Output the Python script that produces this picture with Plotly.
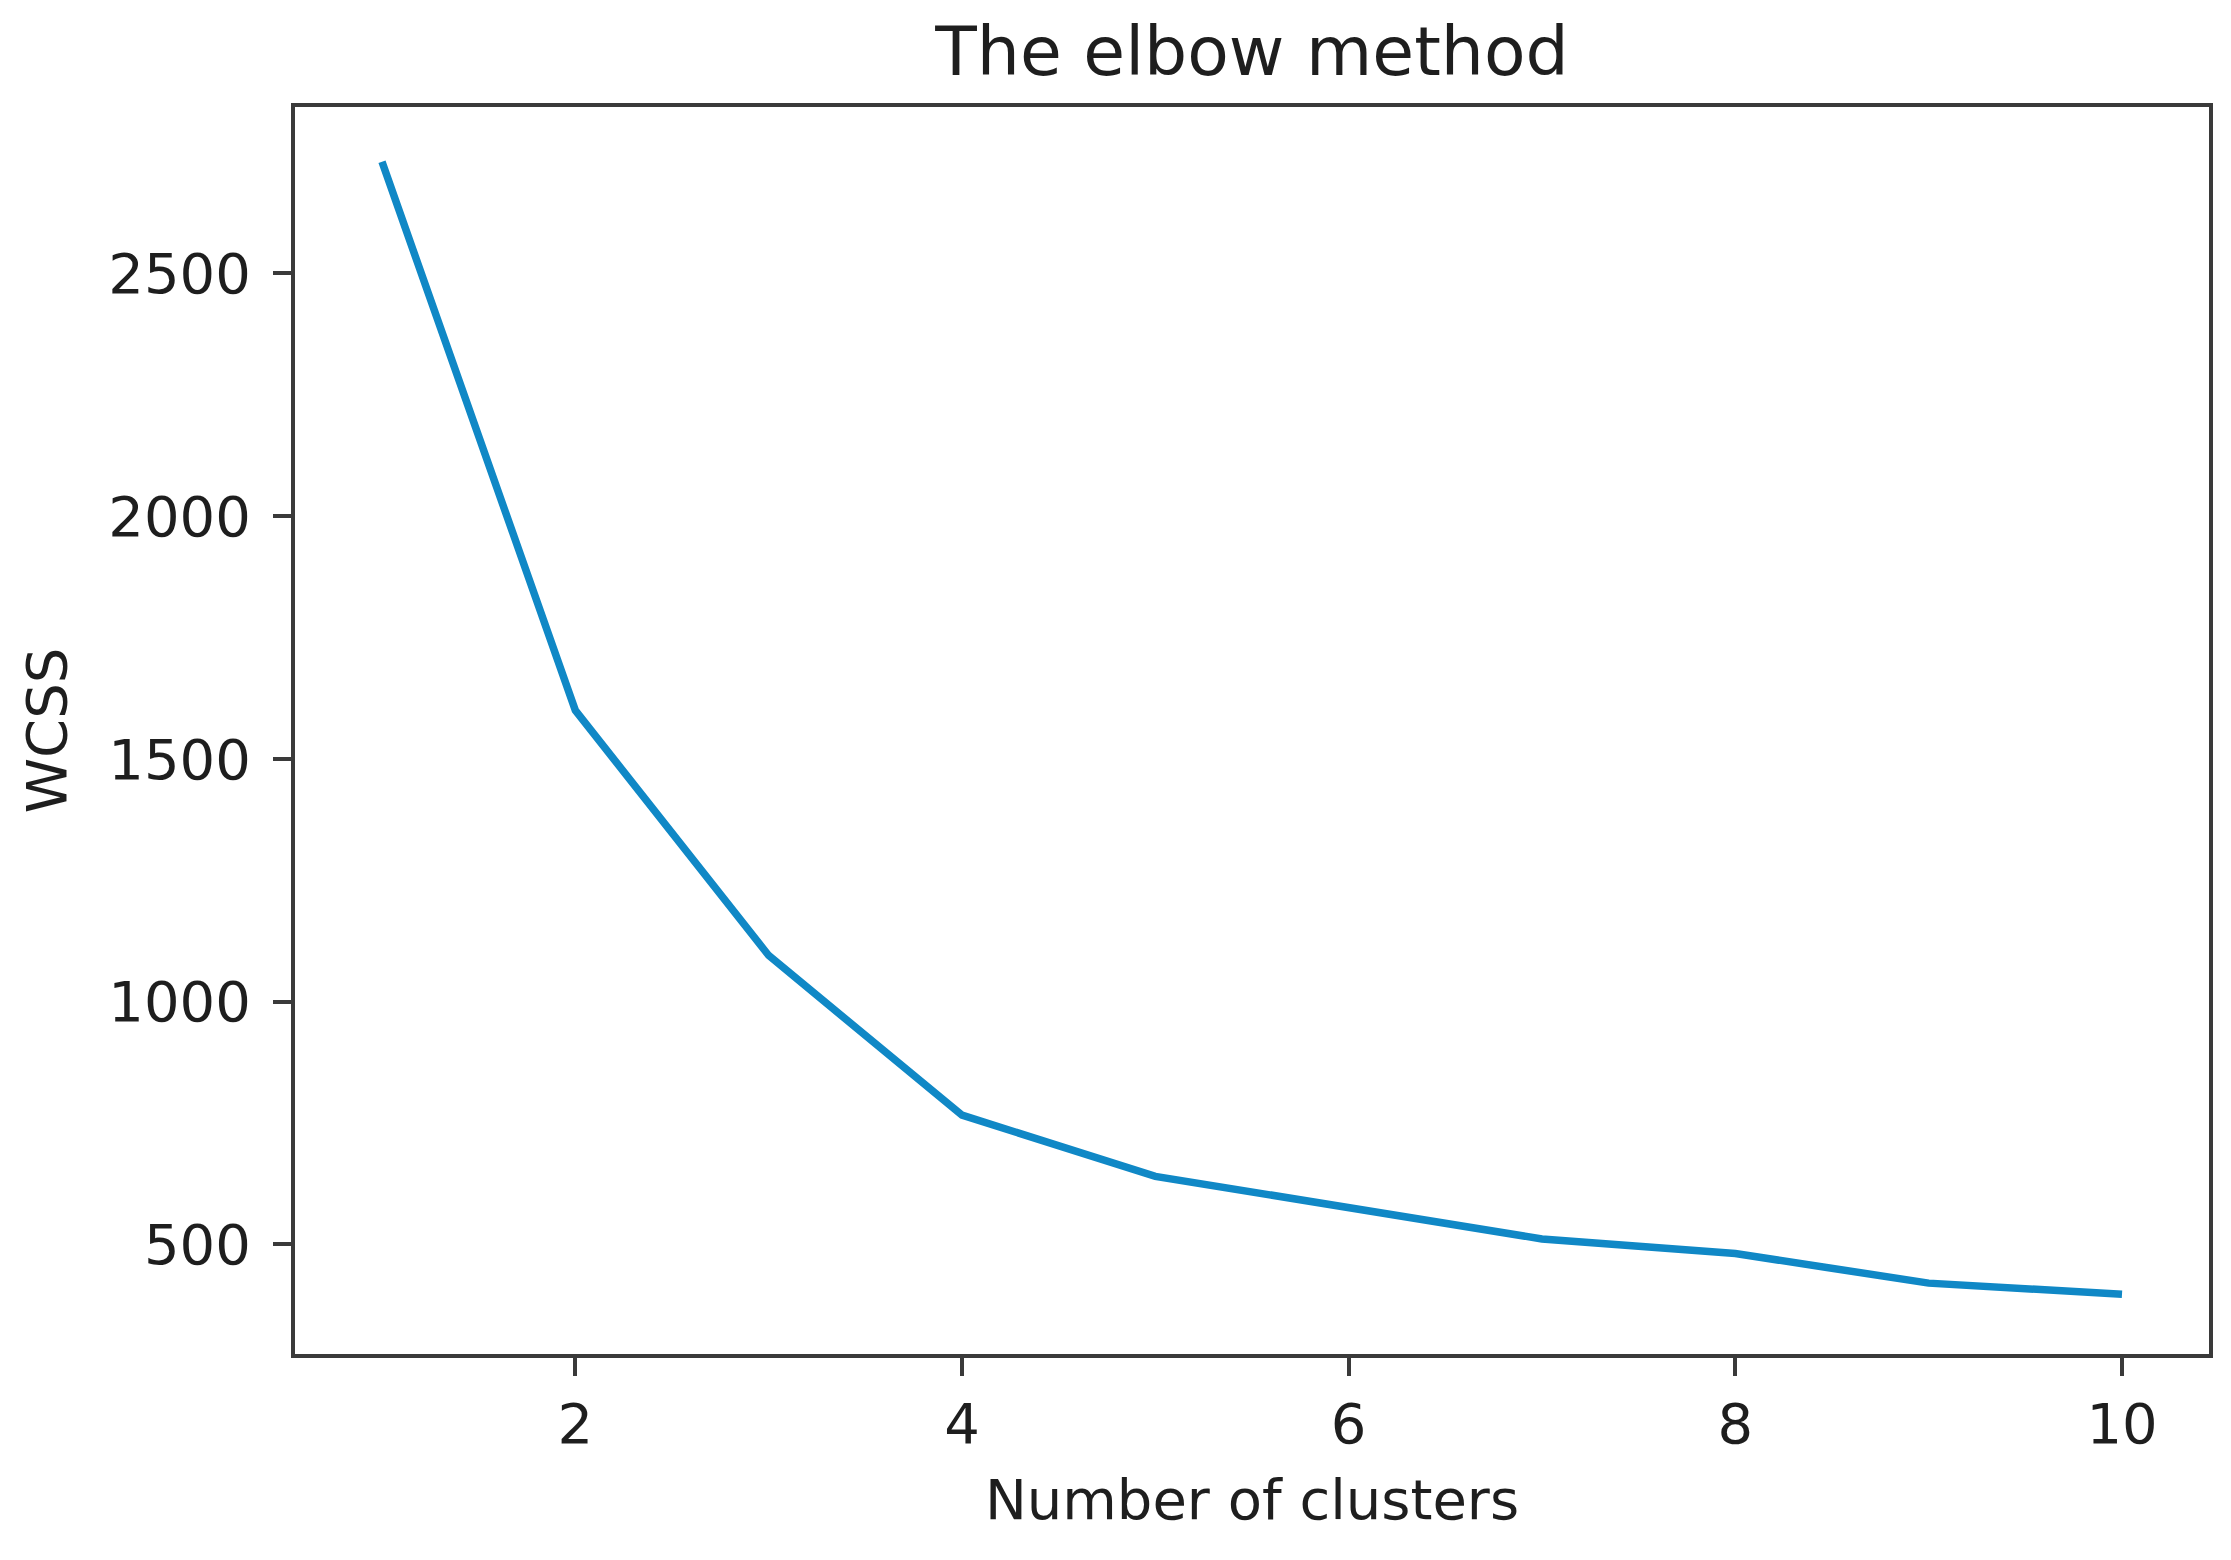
import plotly.graph_objects as go

clusters = [1, 2, 3, 4, 5, 6, 7, 8, 9, 10]
wcss = [2730, 1600, 1095, 766, 640, 575, 511, 481, 420, 397]

x_ticks = [2, 4, 6, 8, 10]
y_ticks = [500, 1000, 1500, 2000, 2500]

# page body has an 8px default margin; compensate
W, H = 2215, 1544
L, R, T, B = 287, 14, 99, 198

fig = go.Figure()
fig.add_trace(go.Scatter(
    x=clusters, y=wcss, mode="lines",
    line=dict(color="#1088c6", width=7.5),
    showlegend=False,
))

axis_common = dict(
    showgrid=False, zeroline=False, automargin=False,
    showline=True, linecolor="#3a3a3a", linewidth=4, mirror=True,
    ticks="outside", ticklen=18, tickwidth=4, tickcolor="#3a3a3a",
    tickfont=dict(family="DejaVu Sans", size=56, color="#1e1e1e"),
)

fig.update_layout(
    width=W, height=H,
    margin=dict(l=L, r=R, t=T, b=B, pad=0, autoexpand=False),
    paper_bgcolor="white", plot_bgcolor="white",
    font=dict(family="DejaVu Sans", color="#1e1e1e"),
    title=dict(
        text="The elbow method",
        font=dict(family="DejaVu Sans", size=68, color="#1e1e1e"),
        x=0.5, xanchor="center", xref="paper",
        y=1.0, yanchor="bottom", yref="paper",
        pad=dict(b=32),
    ),
    xaxis=dict(
        range=[0.55, 10.45], tickvals=x_ticks,
        ticktext=[str(v) for v in x_ticks],
        ticklabelstandoff=0,
        title=dict(text="Number of clusters",
                   font=dict(family="DejaVu Sans", size=56, color="#1e1e1e"),
                   standoff=26),
        **axis_common,
    ),
    yaxis=dict(
        range=[274, 2843], tickvals=y_ticks,
        ticktext=[str(v) for v in y_ticks],
        ticklabelstandoff=11,
        title=dict(text="WCSS",
                   font=dict(family="DejaVu Sans", size=56, color="#1e1e1e"),
                   standoff=25),
        **axis_common,
    ),
)

fig.write_html("out.html")
